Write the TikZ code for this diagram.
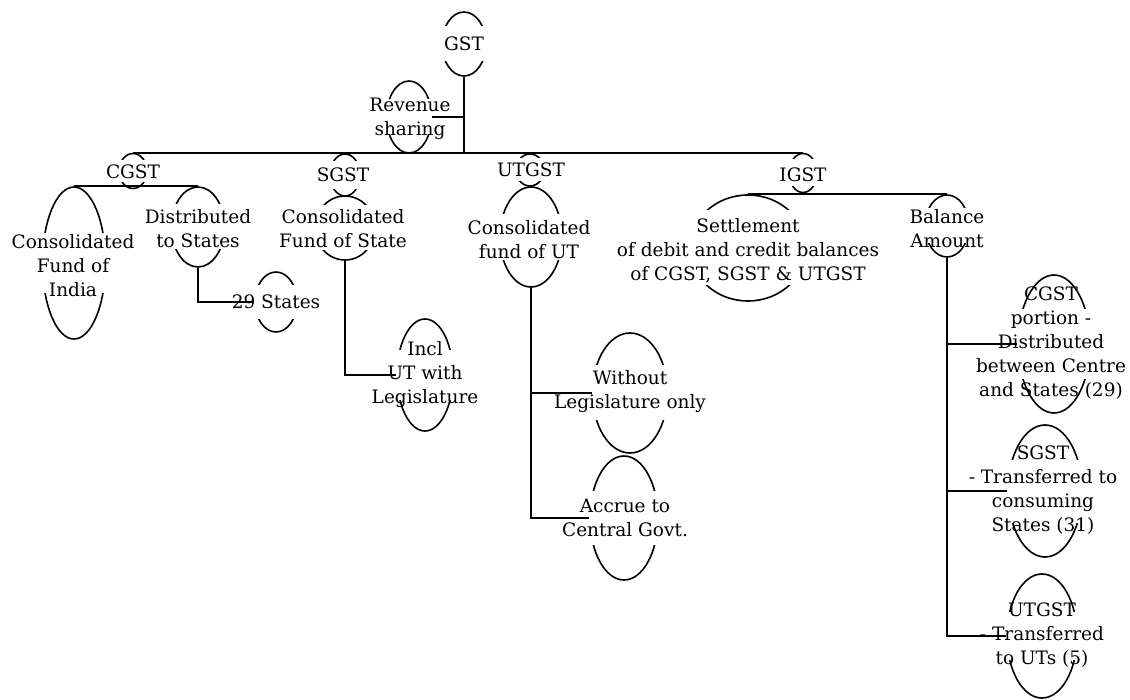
\documentclass[tikz,border=0pt]{standalone}
\usepackage{fontspec}
\setmainfont{DejaVu Serif}
\usetikzlibrary{shapes.geometric}
\newcommand\bubble[5]{%
	\node[ring,minimum width=#3,minimum height=#4] (#1) at (#2) {};
	\node[mask,minimum width={#3+6},minimum height=#5] (#1-m) at (#1) {};}
\begin{document}
\begin{tikzpicture}[x=1pt,y=-1pt,
		ring/.style={draw,ellipse,line width=1.6pt,inner sep=0pt},
		mask/.style={fill=white,inner sep=0pt},
		lbl/.style={align=center,inner sep=0pt,font=\fontsize{18.5}{24}\selectfont},
		wire/.style={line width=1.8pt}]
		\useasboundingbox (0,0) rectangle (1130,700);
		\bubble{gst}{464,44}{44}{64}{35}
		\bubble{rev}{409,117}{45}{72}{35}
		\bubble{cgst}{133,171}{28}{35}{22}
		\bubble{cfi}{74,263}{63}{152}{60}
		\bubble{dist}{198,227}{53}{80}{45}
		\bubble{st29}{276,302}{42}{60}{34}
		\bubble{sgst}{345,175}{30}{42}{28}
		\bubble{cfs}{345,228}{60}{64}{45}
		\bubble{incl}{425,375}{56}{112}{50}
		\bubble{utgst}{530,170}{28}{32}{23}
		\bubble{cfut}{531,237}{62}{100}{46}
		\bubble{wol}{630,393}{75}{120}{55}
		\bubble{acc}{624,518}{68}{124}{54}
		\bubble{igst}{803,173}{28}{39}{27}
		\bubble{settle}{748,248}{116}{106}{75}
		\bubble{bal}{947,226}{44}{62}{35}
		\bubble{cgstp}{1054,344}{72}{138}{70}
		\bubble{sgstp}{1045,491}{74}{132}{63}
		\bubble{utgstp}{1042,636}{70}{124}{48}
		\node[lbl] (gst-t)    at (464,44)   {GST};
		\node[lbl] (rev-t)    at (410,119)  {Revenue\\sharing};
		\node[lbl] (cgst-t)   at (133,172)  {CGST};
		\node[lbl] (cfi-t)    at (73,266)   {Consolidated\\Fund of\\India};
		\node[lbl] (dist-t)   at (198,229)  {Distributed\\to States};
		\node[lbl] (st29-t)   at (276,302)  {29 States};
		\node[lbl] (sgst-t)   at (343,175)  {SGST};
		\node[lbl] (cfs-t)    at (343,229)  {Consolidated\\Fund of State};
		\node[lbl] (incl-t)   at (425,375)  {Incl\\UT with\\Legislature};
		\node[lbl] (utgst-t)  at (531,170)  {UTGST};
		\node[lbl] (cfut-t)   at (529,240)  {Consolidated\\fund of UT};
		\node[lbl] (wol-t)    at (630,392)  {Without\\Legislature only};
		\node[lbl] (acc-t)    at (625,518)  {Accrue to\\Central Govt.};
		\node[lbl] (igst-t)   at (803,175)  {IGST};
		\node[lbl] (settle-t) at (748,251)  {Settlement\\of debit and credit balances\\of CGST, SGST \& UTGST};
		\node[lbl] (bal-t)    at (947,229)  {Balance\\Amount};
		\node[lbl] (cgstp-t)  at (1051,343) {CGST\\portion -\\Distributed\\between Centre\\and States (29)};
		\node[lbl] (sgstp-t)  at (1043,490) {SGST\\- Transferred to\\consuming\\States (31)};
		\node[lbl] (utgstp-t) at (1042,635) {UTGST\\- Transferred\\to UTs (5)};
		\draw[wire] (cgst.north) -- (igst.north);
		\draw[wire] (gst.south) -- (gst.south |- cgst.north);
		\draw[wire] (rev.east) -- (rev.east -| gst.south);
		\draw[wire] (cfi.north) -- (dist.north);
		\draw[wire] (dist.south) |- (st29.west);
		\draw[wire] (cfs.south) |- (incl.west);
		\draw[wire] (cfut.south) |- (wol.west);
		\draw[wire] (cfut.south) |- (acc.west);
		\draw[wire] (settle.north) -- (bal.north);
		\draw[wire] (bal.south) |- (cgstp.west);
		\draw[wire] (bal.south) |- (sgstp.west);
		\draw[wire] (bal.south) |- (utgstp.west);
	\end{tikzpicture}
\end{document}
